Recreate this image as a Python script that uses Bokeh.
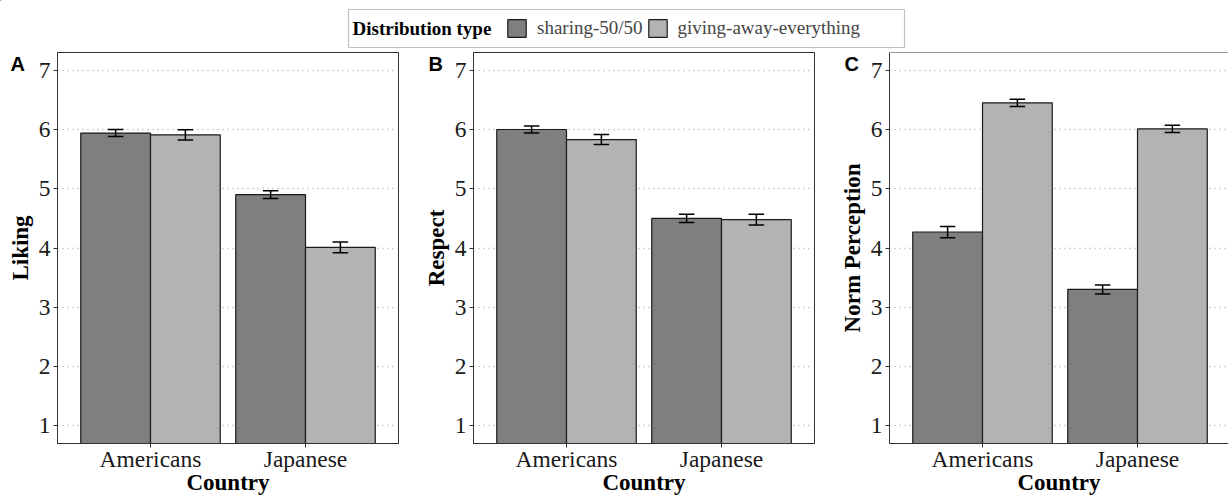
from bokeh.plotting import figure
from bokeh.layouts import column, row
from bokeh.models import (Range1d, FixedTicker, Legend, LegendItem, Label, Span,
                          ColumnDataSource, BoxAnnotation)
from bokeh.embed import file_html
from bokeh.resources import INLINE

# ---- data -------------------------------------------------------------
countries = ["Americans", "Japanese"]
dist_types = ["sharing-50/50", "giving-away-everything"]

liking_sharing = [5.94, 4.90]
liking_sharing_se = [0.06, 0.065]
liking_giving = [5.91, 4.01]
liking_giving_se = [0.085, 0.09]

respect_sharing = [6.00, 4.50]
respect_sharing_se = [0.06, 0.07]
respect_giving = [5.83, 4.48]
respect_giving_se = [0.085, 0.09]

norm_sharing = [4.27, 3.30]
norm_sharing_se = [0.095, 0.075]
norm_giving = [6.45, 6.01]
norm_giving_se = [0.06, 0.06]

y_ticks = [1, 2, 3, 4, 5, 6, 7]

# ---- style ------------------------------------------------------------
SERIF = "Liberation Serif"
SANS = "Liberation Sans"
FILLS = ["#7f7f7f", "#b3b3b3"]
EDGE = "#333333"
BAR_W = 0.45
CAP_HALF = 0.05


def make_panel(tag, tag_offset, ylabel, series, width, border_left, border_right, x_end,
               outline=True):
    p = figure(width=width, height=448, output_backend="svg", toolbar_location=None,
               x_range=Range1d(0.4, x_end), y_range=Range1d(0.7, 7.3),
               min_border_left=border_left, min_border_right=border_right,
               min_border_top=2, min_border_bottom=55)
    p.background_fill_color = "white"
    p.border_fill_color = "white"
    p.outline_line_color = EDGE if outline else None
    p.outline_line_width = 1

    # panel tag drawn as the figure title, pulled left and down beside the y axis
    p.title.text = tag
    p.title.align = "left"
    p.title.offset = tag_offset
    p.title.standoff = -44
    p.title.vertical_align = "bottom"
    p.title.text_font = SANS
    p.title.text_font_style = "bold"
    p.title.text_font_size = "20px"
    p.title.text_color = "black"

    xpos = [i + 1 for i in range(len(countries))]
    for k, (vals, errs) in enumerate(series):
        off = (k - 0.5) * BAR_W
        x = [c + off for c in xpos]
        src = ColumnDataSource(dict(
            x=x, top=vals,
            lo=[v - e for v, e in zip(vals, errs)],
            hi=[v + e for v, e in zip(vals, errs)],
            xl=[c - CAP_HALF for c in x],
            xr=[c + CAP_HALF for c in x],
        ))
        p.vbar(x="x", top="top", bottom=0, width=BAR_W, source=src,
               fill_color=FILLS[k], line_color="#1a1a1a", line_width=1.2)
        p.segment(x0="x", x1="x", y0="lo", y1="hi", source=src,
                  line_color="black", line_width=1.5)
        p.segment(x0="xl", x1="xr", y0="lo", y1="lo", source=src,
                  line_color="black", line_width=1.5)
        p.segment(x0="xl", x1="xr", y0="hi", y1="hi", source=src,
                  line_color="black", line_width=1.5)

    if not outline:
        p.add_layout(Span(location=7.3, dimension="width", line_color=EDGE, line_width=1))

    # axes
    p.xaxis.ticker = FixedTicker(ticks=xpos)
    p.xaxis.major_label_overrides = {c: name for c, name in zip(xpos, countries)}
    p.yaxis.ticker = FixedTicker(ticks=y_ticks)
    p.xaxis.axis_label = "Country"
    p.yaxis.axis_label = ylabel
    for ax in (p.xaxis, p.yaxis):
        ax.axis_line_color = EDGE
        ax.axis_line_width = 1
        ax.major_tick_line_color = EDGE
        ax.major_tick_out = 4
        ax.major_tick_in = 0
        ax.minor_tick_line_color = None
        ax.major_label_text_font = SERIF
        ax.major_label_text_font_size = "23.5px"
        ax.major_label_text_color = "#1a1a1a"
        ax.axis_label_text_font = SERIF
        ax.axis_label_text_font_style = "bold"
        ax.axis_label_text_font_size = "23px"
        ax.axis_label_text_color = "black"
    p.xaxis.major_label_standoff = -2
    p.xaxis.axis_label_standoff = -5
    p.yaxis.major_label_standoff = 3
    p.yaxis.axis_label_standoff = 3

    p.xgrid.grid_line_color = None
    p.ygrid.grid_line_color = "#a8a8a8"
    p.ygrid.grid_line_dash = "1 4"
    p.ygrid.grid_line_width = 1.3
    p.ygrid.minor_grid_line_color = None
    return p


pa = make_panel("A", -47, "Liking",
                [(liking_sharing, liking_sharing_se), (liking_giving, liking_giving_se)],
                410, 57, 12, 2.6)
pb = make_panel("B", -45, "Respect",
                [(respect_sharing, respect_sharing_se), (respect_giving, respect_giving_se)],
                410, 63, 6, 2.6)
pc = make_panel("C", -45, "Norm Perception",
                [(norm_sharing, norm_sharing_se), (norm_giving, norm_giving_se)],
                408, 69, 0, 2.587, outline=False)

# ---- shared legend ----------------------------------------------------
pl = figure(width=1228, height=50, output_backend="svg", toolbar_location=None,
            x_range=Range1d(0, 1228), y_range=Range1d(50, 0),
            min_border=0, x_axis_location=None, y_axis_location=None)
pl.outline_line_color = None
pl.grid.visible = False
pl.add_layout(BoxAnnotation(left=348, right=904, top=9, bottom=47,
                            fill_color="white", fill_alpha=1,
                            line_color=EDGE, line_width=1.2))
pl.add_layout(Label(x=352, y=28, text="Distribution type", text_font=SERIF,
                    text_font_style="bold", text_font_size="19px",
                    text_baseline="middle", text_align="left", text_color="black"))
# key swatches: one proxy bar each, placed outside the visible range
rends = []
for k, name in enumerate(dist_types):
    rends.append(pl.vbar(x=[-100], top=[-100], bottom=[-120], width=1,
                         fill_color=FILLS[k], line_color="#1a1a1a", line_width=1.2))
legend = Legend(items=[LegendItem(label=n, renderers=[r]) for n, r in zip(dist_types, rends)],
                orientation="horizontal", location=(505, 11),
                label_text_font=SERIF, label_text_font_size="19px",
                glyph_width=23, glyph_height=22, padding=0, spacing=3,
                label_standoff=9, margin=0, label_height=22,
                border_line_color=None, background_fill_alpha=0)
pl.add_layout(legend, "center")

layout = column(pl, row(pa, pb, pc))
open("out.html", "w").write(file_html(layout, INLINE))
